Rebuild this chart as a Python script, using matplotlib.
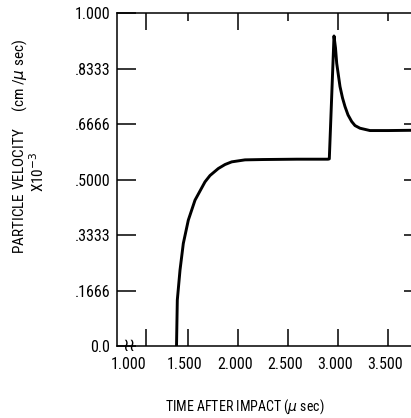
import matplotlib.pyplot as plt
from matplotlib.transforms import ScaledTranslation
from matplotlib import font_manager

names = {f.name for f in font_manager.fontManager.ttflist}
narrow = [n for n in ['Liberation Sans Narrow', 'DejaVu Sans Condensed', 'Roboto Condensed',
                      'Open Sans Condensed', 'Liberation Sans'] if n in names]
plt.rcParams['font.family'] = narrow[:1] + ['DejaVu Sans']

# particle velocity (x10^-3 cm/usec) vs time after impact (usec)
time_us = [1.385, 1.393, 1.42, 1.453, 1.503, 1.57, 1.67, 1.72, 1.803, 1.87, 1.937, 2.07,
           2.25, 2.59, 2.90, 2.913, 2.96, 2.975, 2.987, 3.02, 3.045, 3.07, 3.10, 3.137,
           3.17, 3.22, 3.32, 3.50, 3.80]
velocity = [0.0, 0.138, 0.228, 0.308, 0.378, 0.438, 0.493, 0.512, 0.533, 0.545, 0.553, 0.559,
            0.560, 0.561, 0.561, 0.562, 0.931, 0.895, 0.849, 0.779, 0.745, 0.719, 0.694, 0.674,
            0.662, 0.654, 0.647, 0.647, 0.648]

x_ticks = [1.08, 1.5, 2.0, 2.5, 3.0, 3.5]
x_labels = ["1.000", "1.500", "2.000", "2.500", "3.000", "3.500"]
y_ticks = [0.0, 0.1666, 0.3333, 0.5, 0.6666, 0.8333, 1.0]
y_labels = ["0.0", ".1666", ".3333", ".5000", ".6666", ".8333", "1.000"]

fig = plt.figure(figsize=(4.11, 4.18), dpi=100)
ax = fig.add_axes([0.2847, 0.1722, 0.7299, 0.7967])

ax.plot(time_us, velocity, color="black", linewidth=2.1, solid_joinstyle="round")

ax.set_xlim(0.79, 3.79)
ax.set_ylim(0, 1.0)

ax.spines["right"].set_visible(False)
for s in ["left", "top", "bottom"]:
    ax.spines[s].set_linewidth(1.1)

ax.set_xticks(x_ticks, x_labels)
ax.set_yticks(y_ticks, y_labels)
ax.tick_params(axis="x", direction="in", length=12.5, width=1.1, pad=8, labelsize=11.5)
ax.tick_params(axis="y", direction="in", length=13.5, width=1.1, pad=5, labelsize=11.5)

# nudge the x labels a little left like the original typing
for lbl in ax.get_xticklabels():
    lbl.set_transform(lbl.get_transform() + ScaledTranslation(-3 / 100, 0, fig.dpi_scale_trans))
ax.get_xticklabels()[0].set_transform(
    ax.get_xticklabels()[0].get_transform() + ScaledTranslation(-14 / 100, 0, fig.dpi_scale_trans))

# top ticks: long and short
top = ax.secondary_xaxis("top")
top.set_xticks([1.08, 2.0, 3.0])
top.set_xticks([1.5, 2.5, 3.5], minor=True)
top.tick_params(which="major", direction="in", length=12, width=1.1, labeltop=False)
top.tick_params(which="minor", direction="in", length=6, width=1.1)
top.spines["top"].set_visible(False)

# right ticks
right = ax.secondary_yaxis("right")
right.set_yticks([0.1666, 0.3333, 0.5, 0.6666, 0.8333])
right.tick_params(direction="in", length=9.5, width=1.1, labelright=False)
right.spines["right"].set_visible(False)

# axis break mark
ax.text(0.91, 0.0, "≀≀", fontsize=13, ha="center", va="center",
        family=["DejaVu Sans"])

fig.text(245 / 411, 1 - 407 / 418, "TIME AFTER IMPACT ($\\mu$ sec)",
         ha="center", va="center", fontsize=10)
fig.text(20 / 411, 1 - 146 / 418, "PARTICLE VELOCITY     (cm /$\\mu$ sec)",
         rotation=90, ha="center", va="center", fontsize=11)
fig.text(38 / 411, 1 - 172 / 418, "X10$^{-3}$",
         rotation=90, ha="center", va="center", fontsize=11)

fig.savefig("out.png", dpi=100)
